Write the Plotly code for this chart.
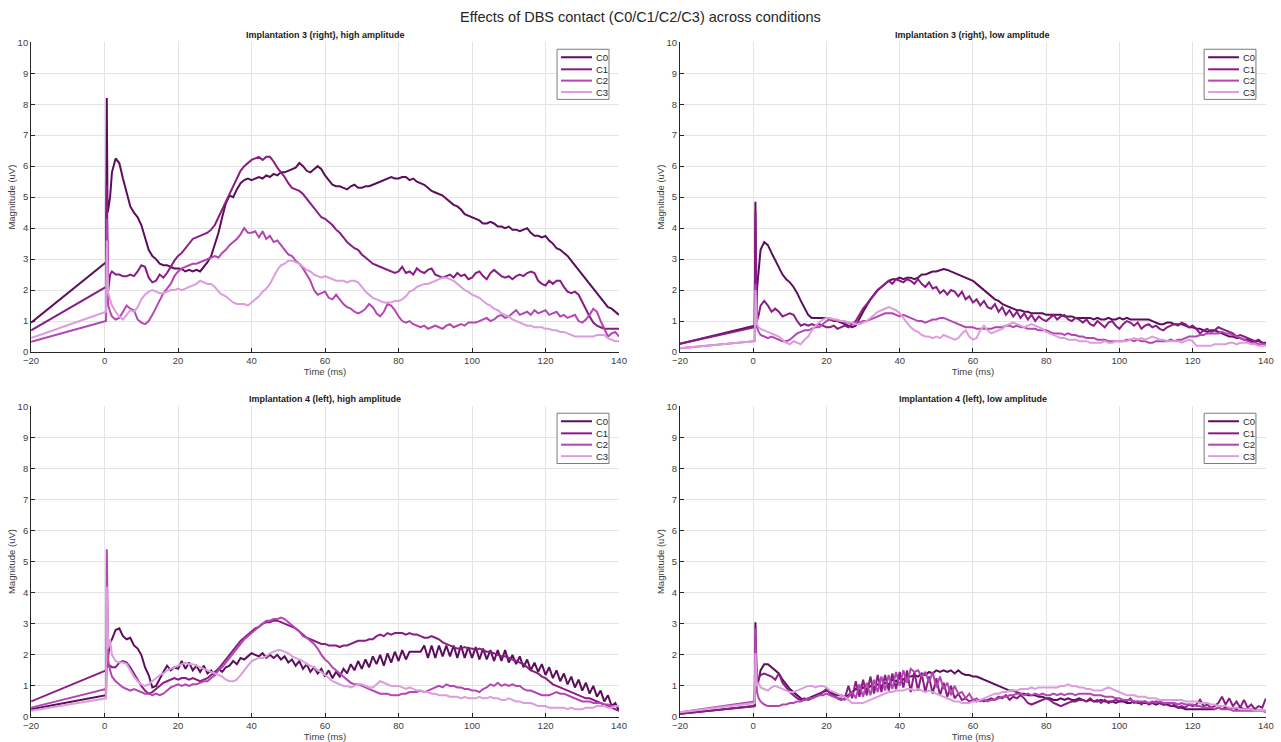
import plotly.graph_objects as go

# Time base (ms): pre-stimulus anchor, fine samples around the artefact, then 1 ms steps
t_ms = [-20, 0.4, 0.6, 0.8, 1.0, 1.5] + list(range(2, 141))

contacts = ["C0", "C1", "C2", "C3"]
contact_colors = ["#5c0d5c", "#8a1c86", "#b446b4", "#dc9ddc"]

panel_titles = [
    "Implantation 3 (right), high amplitude",
    "Implantation 3 (right), low amplitude",
    "Implantation 4 (left), high amplitude",
    "Implantation 4 (left), low amplitude",
]

# ---- Implantation 3 (right), high amplitude ----
imp3_high_c0 = [
    0.95, 2.9, 8.2, 4.5, 4.6, 5.0,
    5.8, 6.25, 6.1, 5.6, 5.1, 4.7, 4.5, 4.35,
    4.1, 3.7, 3.3, 3.1, 3.0, 2.85, 2.8, 2.8, 2.75, 2.7,
    2.7, 2.68, 2.6, 2.65, 2.6, 2.65, 2.6, 2.75, 2.9, 3.1,
    3.45, 3.85, 4.35, 4.8, 5.05, 5.0, 5.25, 5.45, 5.55, 5.6,
    5.55, 5.6, 5.65, 5.6, 5.7, 5.65, 5.75, 5.7, 5.8, 5.8,
    5.85, 5.9, 5.95, 6.1, 6.0, 5.85, 5.8, 5.9, 6.0, 5.9,
    5.7, 5.55, 5.4, 5.35, 5.35, 5.3, 5.25, 5.35, 5.4, 5.3,
    5.3, 5.35, 5.35, 5.4, 5.45, 5.5, 5.55, 5.6, 5.65, 5.6,
    5.6, 5.65, 5.65, 5.55, 5.6, 5.5, 5.45, 5.4, 5.3, 5.2,
    5.15, 5.1, 5.05, 4.95, 4.85, 4.75, 4.7, 4.6, 4.45, 4.4,
    4.35, 4.3, 4.25, 4.15, 4.15, 4.2, 4.15, 4.05, 4.05, 4.0,
    4.05, 3.95, 3.95, 3.9, 3.95, 4.0, 3.85, 3.75, 3.75, 3.7,
    3.75, 3.6, 3.5, 3.35, 3.3, 3.2, 3.1, 2.95, 2.8, 2.65,
    2.5, 2.35, 2.2, 2.05, 1.9, 1.75, 1.6, 1.45, 1.4, 1.3,
    1.2,
]
imp3_high_c1 = [
    0.7, 2.1, 5.4, 2.2, 2.0, 2.5,
    2.6, 2.5, 2.5, 2.45, 2.45, 2.5, 2.45, 2.6,
    2.8, 2.75, 2.4, 2.25, 2.3, 2.5, 2.4, 2.55, 2.75, 2.95,
    3.1, 3.2, 3.35, 3.5, 3.65, 3.7, 3.75, 3.8, 3.85, 3.95,
    4.1, 4.35, 4.6, 4.85, 5.05, 5.3, 5.6, 5.85, 6.0, 6.1,
    6.2, 6.25, 6.3, 6.2, 6.3, 6.3, 6.15, 5.95, 5.8, 5.65,
    5.45, 5.3, 5.25, 5.2, 5.1, 4.95, 4.8, 4.65, 4.5, 4.35,
    4.3, 4.2, 4.1, 3.95, 3.85, 3.7, 3.55, 3.45, 3.35, 3.3,
    3.15, 3.05, 2.95, 2.85, 2.8, 2.75, 2.7, 2.65, 2.6, 2.55,
    2.6, 2.75, 2.55, 2.6, 2.5, 2.7, 2.6, 2.55, 2.65, 2.7,
    2.5, 2.45, 2.4, 2.45, 2.5, 2.4, 2.55, 2.45, 2.5, 2.35,
    2.4, 2.55, 2.6, 2.45, 2.35, 2.55, 2.65, 2.55, 2.45, 2.4,
    2.45, 2.35, 2.45, 2.5, 2.45, 2.55, 2.6, 2.55, 2.3, 2.2,
    2.15, 2.3, 2.2, 2.3, 2.3, 2.1, 1.95, 1.9, 1.95, 1.85,
    1.6, 1.35, 1.15, 0.95, 0.85, 0.8, 0.75, 0.75, 0.75, 0.75,
    0.75,
]
imp3_high_c2 = [
    0.33, 1.0, 4.3, 1.9, 1.5, 1.3,
    1.15, 1.05, 1.1, 1.3, 1.5, 1.4, 1.35, 1.05,
    0.95, 0.9, 1.0, 1.2, 1.45, 1.7, 1.9, 2.05, 2.2, 2.45,
    2.6, 2.7, 2.75, 2.8, 2.85, 2.85, 2.9, 2.95, 3.0, 3.05,
    3.1, 3.05, 3.2, 3.3, 3.45, 3.55, 3.65, 3.8, 4.0, 3.85,
    3.85, 3.9, 3.7, 3.9, 3.65, 3.75, 3.55, 3.6, 3.45, 3.3,
    3.15, 3.1, 2.95, 2.85, 2.7, 2.5, 2.3, 2.0, 1.85, 1.9,
    1.95, 1.75, 1.7, 1.85, 1.7, 1.55, 1.45, 1.4, 1.3, 1.25,
    1.3, 1.4, 1.55, 1.45, 1.25, 1.15, 1.3, 1.55, 1.5, 1.35,
    1.15, 1.0, 0.95, 1.0, 0.9, 0.85, 0.8, 0.85, 0.75, 0.8,
    0.85, 0.8, 0.75, 0.85, 0.9, 0.8, 0.85, 0.9, 0.85, 0.95,
    0.95, 0.95, 1.0, 1.05, 1.1, 1.0, 1.05, 1.15, 1.2, 1.1,
    1.15, 1.25, 1.35, 1.2, 1.25, 1.3, 1.2, 1.35, 1.25, 1.3,
    1.35, 1.2, 1.25, 1.3, 1.15, 1.2, 1.1, 1.15, 1.2, 1.0,
    0.95, 1.05, 1.2, 1.4, 1.3, 1.0, 0.75, 0.5, 0.6, 0.65,
    0.5,
]
imp3_high_c3 = [
    0.45, 1.3, 3.6, 2.0, 1.9, 1.7,
    1.5, 1.3, 1.15, 1.05, 1.2, 1.35, 1.3, 1.45,
    1.7, 1.85, 1.95, 2.0, 1.95, 1.9, 1.9, 1.95, 2.0, 2.0,
    2.05, 2.0, 2.05, 2.1, 2.15, 2.2, 2.3, 2.25, 2.2, 2.2,
    2.1, 1.95, 1.85, 1.8, 1.7, 1.6, 1.55, 1.55, 1.55, 1.5,
    1.6, 1.7, 1.8, 1.95, 2.05, 2.2, 2.45, 2.65, 2.8, 2.85,
    2.95, 2.95, 2.9, 2.85, 2.75, 2.65, 2.6, 2.5, 2.45, 2.4,
    2.45, 2.4, 2.35, 2.3, 2.3, 2.3, 2.25, 2.3, 2.3, 2.25,
    2.1, 1.95, 1.85, 1.75, 1.7, 1.65, 1.6, 1.6, 1.6, 1.65,
    1.65, 1.7, 1.8, 1.95, 2.0, 2.1, 2.15, 2.2, 2.2, 2.25,
    2.3, 2.35, 2.4, 2.4, 2.35, 2.3, 2.2, 2.1, 2.0, 1.95,
    1.85, 1.8, 1.75, 1.65, 1.55, 1.5, 1.4, 1.35, 1.25, 1.2,
    1.15, 1.05, 1.0, 0.95, 0.9, 0.85, 0.85, 0.8, 0.8, 0.8,
    0.75, 0.75, 0.7, 0.7, 0.65, 0.65, 0.6, 0.55, 0.5, 0.5,
    0.5, 0.5, 0.5, 0.5, 0.55, 0.55, 0.55, 0.45, 0.4, 0.35,
    0.35,
]

# ---- Implantation 3 (right), low amplitude ----
imp3_low_c0 = [
    0.27, 0.85, 4.85, 1.5, 2.0, 2.8,
    3.3, 3.55, 3.45, 3.2, 2.95, 2.7, 2.5, 2.35,
    2.25, 2.1, 1.9, 1.65, 1.4, 1.2, 1.1, 1.1, 1.08, 1.1,
    1.1, 1.05, 1.0, 1.0, 0.95, 0.9, 0.85, 0.8, 0.85, 1.1,
    1.3, 1.5, 1.7, 1.85, 2.0, 2.1, 2.2, 2.3, 2.35, 2.35,
    2.4, 2.35, 2.4, 2.4, 2.35, 2.4, 2.5, 2.5, 2.55, 2.6,
    2.6, 2.65, 2.68, 2.65, 2.6, 2.55, 2.5, 2.45, 2.4, 2.35,
    2.3, 2.2, 2.1, 2.0, 1.9, 1.8, 1.7, 1.65, 1.55, 1.5,
    1.45, 1.4, 1.35, 1.35, 1.3, 1.3, 1.25, 1.25, 1.25, 1.25,
    1.2, 1.2, 1.2, 1.2, 1.2, 1.15, 1.15, 1.15, 1.1, 1.1,
    1.1, 1.1, 1.1, 1.05, 1.1, 1.05, 1.05, 1.1, 1.05, 1.05,
    1.1, 1.05, 1.1, 1.05, 1.05, 1.05, 1.05, 1.05, 1.05, 1.0,
    0.95, 0.9, 0.9, 0.95, 0.95, 0.9, 0.9, 0.9, 0.85, 0.8,
    0.8, 0.75, 0.75, 0.7, 0.65, 0.7, 0.7, 0.65, 0.6, 0.55,
    0.5, 0.5, 0.45, 0.45, 0.4, 0.4, 0.35, 0.35, 0.35, 0.3,
    0.3,
]
imp3_low_c1 = [
    0.27, 0.8, 4.5, 1.4, 1.0, 1.2,
    1.5, 1.65, 1.5, 1.3, 1.4, 1.3, 1.15, 1.2,
    1.25, 1.2, 1.0, 0.85, 0.9, 0.85, 0.9, 0.85, 0.9, 0.85,
    0.8, 0.8, 0.85, 0.75, 0.8, 0.85, 0.8, 0.9, 1.0, 1.2,
    1.4, 1.55, 1.7, 1.85, 2.0, 2.1, 2.2, 2.3, 2.2, 2.35,
    2.3, 2.25, 2.35, 2.3, 2.2, 2.35, 2.2, 2.1, 2.25, 2.05,
    2.1, 1.9, 2.0, 1.85, 2.0, 1.95, 1.8, 1.95, 1.7, 1.8,
    1.6, 1.7, 1.5, 1.65, 1.45, 1.4, 1.55, 1.3, 1.45, 1.2,
    1.35, 1.15, 1.3, 1.1, 1.25, 1.05, 1.2, 1.0, 1.15, 1.05,
    1.0, 1.1, 1.2, 1.05, 1.15, 1.2, 1.05, 1.0, 1.1, 1.05,
    0.95, 1.05, 0.9, 0.85, 1.0, 0.9, 0.8, 0.95, 1.0, 0.85,
    0.75, 0.9, 1.0, 0.95, 0.85, 0.95, 0.75, 0.85, 0.9, 0.8,
    0.85, 0.75, 0.7, 0.8, 0.85, 0.9, 0.85, 0.95, 0.9, 0.8,
    0.85, 0.75, 0.6, 0.7, 0.75, 0.65, 0.7, 0.8, 0.75, 0.7,
    0.65, 0.6, 0.5, 0.55, 0.5, 0.45, 0.4, 0.35, 0.4, 0.3,
    0.25,
]
imp3_low_c2 = [
    0.12, 0.35, 2.2, 1.0, 0.8, 0.65,
    0.55, 0.5, 0.45, 0.5, 0.45, 0.4, 0.35, 0.35,
    0.4, 0.5, 0.6, 0.65, 0.7, 0.7, 0.75, 0.8, 0.8, 0.9,
    1.0, 1.05, 1.05, 1.0, 1.0, 0.95, 0.95, 0.9, 0.95, 0.95,
    1.0, 1.0, 1.05, 1.1, 1.15, 1.2, 1.25, 1.25, 1.25, 1.2,
    1.15, 1.2, 1.15, 1.1, 1.05, 1.0, 1.0, 0.95, 1.0, 1.05,
    1.05, 1.1, 1.1, 1.05, 1.0, 0.95, 0.9, 0.85, 0.8, 0.8,
    0.8, 0.75, 0.75, 0.75, 0.75, 0.75, 0.8, 0.8, 0.8, 0.85,
    0.85, 0.8, 0.85, 0.8, 0.8, 0.75, 0.75, 0.75, 0.7, 0.7,
    0.7, 0.65, 0.6, 0.6, 0.6, 0.55, 0.6, 0.55, 0.55, 0.5,
    0.5, 0.45, 0.45, 0.45, 0.4, 0.4, 0.4, 0.35, 0.35, 0.35,
    0.35, 0.35, 0.4, 0.4, 0.35, 0.4, 0.35, 0.35, 0.3, 0.3,
    0.35, 0.35, 0.35, 0.35, 0.4, 0.35, 0.4, 0.4, 0.45, 0.5,
    0.5, 0.5, 0.55, 0.55, 0.6, 0.6, 0.6, 0.6, 0.65, 0.6,
    0.6, 0.55, 0.5, 0.45, 0.4, 0.35, 0.3, 0.3, 0.25, 0.25,
    0.25,
]
imp3_low_c3 = [
    0.12, 0.35, 2.0, 1.2, 0.9, 0.8,
    0.75, 0.7, 0.65, 0.6, 0.55, 0.5, 0.4, 0.3,
    0.25, 0.35, 0.3, 0.25, 0.4, 0.5, 0.7, 0.85, 0.95, 1.05,
    1.1, 1.1, 1.05, 1.05, 1.0, 1.0, 0.95, 0.95, 0.9, 0.9,
    0.95, 1.0, 1.1, 1.2, 1.3, 1.35, 1.4, 1.45, 1.4, 1.35,
    1.25, 1.1, 0.95, 0.8, 0.7, 0.65, 0.55, 0.5, 0.5, 0.45,
    0.5, 0.45, 0.55, 0.5, 0.45, 0.4, 0.45, 0.6, 0.7, 0.5,
    0.4, 0.45, 0.7, 0.85, 0.7, 0.6, 0.65, 0.7, 0.75, 0.85,
    0.9, 0.95, 0.9, 0.85, 0.8, 0.85, 0.9, 0.85, 0.8, 0.75,
    0.65, 0.6, 0.55, 0.5, 0.45, 0.45, 0.4, 0.4, 0.4, 0.35,
    0.35, 0.35, 0.3, 0.3, 0.3, 0.3, 0.35, 0.3, 0.3, 0.35,
    0.35, 0.35, 0.35, 0.4, 0.45, 0.4, 0.45, 0.4, 0.45, 0.5,
    0.45, 0.4, 0.4, 0.35, 0.35, 0.35, 0.35, 0.3, 0.35, 0.4,
    0.35, 0.2, 0.2, 0.2, 0.2, 0.2, 0.25, 0.25, 0.25, 0.25,
    0.3, 0.3, 0.25, 0.3, 0.3, 0.3, 0.25, 0.25, 0.2, 0.2,
    0.2,
]

# ---- Implantation 4 (left), high amplitude ----
imp4_high_c0 = [
    0.25, 0.7, 2.3, 1.6, 2.0, 2.4,
    2.5, 2.8, 2.85, 2.6, 2.5, 2.55, 2.3, 2.2,
    2.0, 1.6, 1.35, 0.95, 1.0, 1.25, 1.45, 1.65, 1.5, 1.6,
    1.55, 1.8, 1.55, 1.75, 1.5, 1.65, 1.45, 1.65, 1.4, 1.5,
    1.35, 1.55, 1.45, 1.6, 1.65, 1.8, 1.7, 1.9, 1.85, 1.95,
    2.05, 2.0, 1.95, 2.05, 1.9, 2.0, 1.9, 2.0, 1.85, 1.95,
    1.75, 1.85, 1.65, 1.8, 1.55, 1.7, 1.45, 1.6, 1.4, 1.55,
    1.3, 1.5, 1.25, 1.45, 1.3, 1.55, 1.4, 1.7, 1.5, 1.8,
    1.55, 1.85, 1.6, 1.95, 1.7, 2.0, 1.65, 2.05, 1.75, 2.1,
    1.8, 2.15, 1.85, 2.1, 2.1, 2.1, 2.1, 2.3, 1.9, 2.3,
    1.9, 2.3, 1.95, 2.3, 1.95, 2.3, 1.9, 2.3, 1.9, 2.25,
    1.9, 2.25, 1.85, 2.2, 1.85, 2.15, 1.8, 2.15, 1.8, 2.15,
    1.75, 2.0, 1.7, 1.95, 1.6, 1.85, 1.5, 1.75, 1.45, 1.7,
    1.35, 1.6, 1.25, 1.5, 1.15, 1.4, 1.05, 1.3, 0.95, 1.2,
    0.85, 1.1, 0.75, 1.0, 0.65, 0.85, 0.5, 0.7, 0.35, 0.45,
    0.2,
]
imp4_high_c1 = [
    0.5, 1.5, 2.6, 1.6, 1.7, 1.65,
    1.6, 1.6, 1.75, 1.8, 1.75, 1.6, 1.4, 1.2,
    1.0, 0.85, 0.75, 0.8, 0.9, 1.0, 1.1, 1.15, 1.2, 1.25,
    1.2, 1.25, 1.25, 1.2, 1.25, 1.2, 1.15, 1.2, 1.25, 1.35,
    1.45, 1.55, 1.7, 1.85, 2.0, 2.15, 2.3, 2.45, 2.55, 2.65,
    2.75, 2.85, 2.9, 3.0, 3.05, 3.05, 3.1, 3.1, 3.05, 3.0,
    2.95, 2.9, 2.85, 2.75, 2.65, 2.55, 2.5, 2.45, 2.4, 2.35,
    2.35, 2.3, 2.3, 2.3, 2.25, 2.3, 2.3, 2.35, 2.4, 2.45,
    2.45, 2.45, 2.5, 2.5, 2.6, 2.65, 2.6, 2.7, 2.65, 2.7,
    2.7, 2.7, 2.65, 2.7, 2.65, 2.65, 2.6, 2.55, 2.55, 2.6,
    2.55, 2.5, 2.4, 2.35, 2.3, 2.25, 2.2, 2.2, 2.25, 2.2,
    2.2, 2.15, 2.2, 2.15, 2.1, 2.1, 2.05, 2.0, 1.95, 1.95,
    1.9, 1.85, 1.8, 1.75, 1.7, 1.6, 1.5, 1.45, 1.4, 1.3,
    1.25, 1.15, 1.05, 1.0, 0.95, 0.9, 0.85, 0.8, 0.75, 0.7,
    0.65, 0.6, 0.6, 0.55, 0.5, 0.45, 0.4, 0.35, 0.3, 0.25,
    0.2,
]
imp4_high_c2 = [
    0.3, 0.9, 5.4, 2.6, 1.8, 1.5,
    1.3, 1.15, 1.05, 0.95, 0.9, 0.85, 0.9, 0.85,
    0.8, 0.75, 0.75, 0.7, 0.75, 0.7, 0.75, 0.85, 0.95, 1.0,
    1.05, 1.0, 1.05, 1.0, 1.05, 1.05, 1.1, 1.15, 1.15, 1.25,
    1.35, 1.5, 1.6, 1.75, 1.9, 2.05, 2.2, 2.35, 2.5, 2.6,
    2.7, 2.8, 2.9, 3.0, 3.1, 3.1, 3.15, 3.15, 3.2, 3.15,
    3.05, 2.95, 2.85, 2.75, 2.6, 2.55, 2.45, 2.35, 2.2, 2.0,
    1.85, 1.75, 1.6, 1.5, 1.4, 1.3, 1.2, 1.1, 1.05, 1.05,
    1.0, 0.95, 0.9, 0.85, 0.8, 0.75, 0.75, 0.75, 0.7, 0.7,
    0.7, 0.75, 0.75, 0.8, 0.8, 0.8, 0.85, 0.8, 0.85, 0.9,
    0.95, 1.0, 0.95, 1.05, 1.0, 1.0, 0.95, 0.95, 0.9, 0.9,
    0.85, 0.85, 0.8, 0.9, 0.95, 1.05, 1.0, 1.1, 1.0, 1.05,
    1.0, 1.05, 1.0, 1.0, 0.9, 0.85, 0.85, 0.8, 0.75, 0.7,
    0.7, 0.7, 0.75, 0.8, 0.75, 0.75, 0.7, 0.65, 0.6, 0.55,
    0.5, 0.5, 0.5, 0.45, 0.45, 0.45, 0.4, 0.4, 0.35, 0.35,
    0.35,
]
imp4_high_c3 = [
    0.2, 0.6, 4.2, 2.7, 2.2, 2.5,
    2.0, 1.8, 1.75, 1.75, 1.7, 1.5, 1.3, 1.15,
    1.05, 1.0, 1.05, 1.15, 1.25, 1.35, 1.4, 1.5, 1.55, 1.6,
    1.65, 1.7, 1.75, 1.7, 1.7, 1.65, 1.6, 1.55, 1.5, 1.45,
    1.4, 1.35, 1.3, 1.2, 1.15, 1.15, 1.2, 1.35, 1.5, 1.65,
    1.8, 1.85, 1.9, 1.9, 1.95, 2.05, 2.1, 2.15, 2.15, 2.1,
    2.05, 1.95, 1.9, 1.85, 1.8, 1.7, 1.65, 1.6, 1.5, 1.45,
    1.35, 1.25, 1.15, 1.1, 1.05, 1.0, 1.0, 0.95, 1.0, 1.05,
    1.05, 1.0, 0.95, 0.95, 1.05, 1.15, 1.1, 1.05, 1.0, 1.0,
    1.0, 0.95, 0.9, 0.95, 0.9, 0.85, 0.85, 0.8, 0.8, 0.75,
    0.75, 0.7, 0.7, 0.7, 0.65, 0.65, 0.65, 0.6, 0.65, 0.6,
    0.6, 0.6, 0.65, 0.6, 0.6, 0.65, 0.6, 0.6, 0.55, 0.55,
    0.6, 0.55, 0.5, 0.5, 0.45, 0.45, 0.45, 0.4, 0.35, 0.35,
    0.35, 0.3, 0.3, 0.3, 0.3, 0.3, 0.25, 0.3, 0.25, 0.25,
    0.25, 0.3, 0.3, 0.3, 0.35, 0.35, 0.35, 0.3, 0.3, 0.35,
    0.35,
]

# ---- Implantation 4 (left), low amplitude ----
imp4_low_c0 = [
    0.1, 0.35, 3.05, 1.3, 1.0, 1.2,
    1.5, 1.7, 1.7, 1.6, 1.5, 1.4, 1.2, 1.05,
    0.9, 0.8, 0.7, 0.6, 0.55, 0.6, 0.65, 0.7, 0.75, 0.8,
    0.85, 0.8, 0.75, 0.7, 0.7, 0.65, 0.7, 0.8, 0.9, 0.85,
    0.95, 0.9, 1.0, 0.95, 1.05, 1.0, 1.1, 1.05, 1.2, 1.15,
    1.25, 1.2, 1.3, 1.3, 1.35, 1.3, 1.4, 1.35, 1.45, 1.4,
    1.5, 1.45, 1.5, 1.45, 1.5, 1.4, 1.5, 1.4, 1.35, 1.35,
    1.3, 1.3, 1.25, 1.2, 1.15, 1.1, 1.05, 1.0, 0.95, 0.9,
    0.85, 0.85, 0.8, 0.75, 0.75, 0.7, 0.7, 0.7, 0.65, 0.65,
    0.6, 0.6, 0.55, 0.55, 0.6, 0.55, 0.6, 0.55, 0.55, 0.6,
    0.55, 0.5, 0.55, 0.5, 0.5, 0.55, 0.5, 0.5, 0.5, 0.45,
    0.5, 0.5, 0.45, 0.45, 0.5, 0.45, 0.45, 0.45, 0.45, 0.45,
    0.4, 0.45, 0.4, 0.4, 0.35, 0.35, 0.3, 0.3, 0.25, 0.25,
    0.25, 0.25, 0.25, 0.25, 0.25, 0.25, 0.25, 0.3, 0.25, 0.3,
    0.25, 0.3, 0.25, 0.3, 0.25, 0.25, 0.25, 0.2, 0.2, 0.2,
    0.2,
]
imp4_low_c1 = [
    0.1, 0.35, 2.2, 1.4, 1.1, 1.25,
    1.35, 1.4, 1.35, 1.3, 1.2, 1.4, 1.1, 0.95,
    0.8, 0.7, 0.6, 0.55, 0.6, 0.55, 0.6, 0.65, 0.7, 0.8,
    0.9, 0.75, 0.7, 0.6, 0.55, 0.6, 1.0, 0.6, 1.15, 0.65,
    1.2, 0.7, 1.3, 0.75, 1.35, 0.8, 1.35, 0.85, 1.4, 0.9,
    1.45, 0.95, 1.5, 0.8, 1.45, 0.85, 1.4, 0.8, 1.3, 0.75,
    1.25, 0.7, 1.1, 0.65, 1.0, 0.6, 0.75, 0.55, 0.6, 0.5,
    0.55, 0.5, 0.55, 0.5, 0.55, 0.6, 0.55, 0.65, 0.6, 0.7,
    0.55, 0.65, 0.6, 0.7, 0.6, 0.45, 0.4, 0.45, 0.5, 0.55,
    0.6, 0.55, 0.45, 0.4, 0.35, 0.4, 0.45, 0.5, 0.5, 0.55,
    0.55, 0.5, 0.6, 0.5, 0.55, 0.45, 0.55, 0.45, 0.5, 0.55,
    0.5, 0.55, 0.5, 0.6, 0.45, 0.5, 0.4, 0.5, 0.4, 0.45,
    0.5, 0.45, 0.4, 0.45, 0.35, 0.4, 0.3, 0.35, 0.3, 0.4,
    0.35, 0.4, 0.55, 0.35, 0.4, 0.3, 0.35, 0.45, 0.65, 0.4,
    0.6, 0.35, 0.5, 0.3, 0.55, 0.3, 0.4, 0.25, 0.35, 0.3,
    0.6,
]
imp4_low_c2 = [
    0.15, 0.5, 2.85, 1.3, 0.8, 0.6,
    0.5, 0.4, 0.35, 0.35, 0.35, 0.35, 0.4, 0.4,
    0.45, 0.45, 0.5, 0.5, 0.55, 0.6, 0.6, 0.65, 0.7, 0.7,
    0.75, 0.7, 0.65, 0.6, 0.6, 0.55, 0.65, 0.8, 0.6, 1.05,
    0.65, 1.1, 0.7, 1.2, 0.8, 1.3, 0.85, 1.35, 0.9, 1.45,
    1.0, 1.5, 1.1, 1.55, 1.45, 1.5, 1.3, 1.45, 1.1, 1.45,
    0.95, 1.3, 0.9, 1.1, 0.7, 1.0, 0.75, 0.8, 0.6, 0.75,
    0.55, 0.6, 0.5, 0.55, 0.5, 0.55, 0.55, 0.6, 0.65, 0.65,
    0.7, 0.7, 0.75, 0.75, 0.7, 0.75, 0.7, 0.75, 0.7, 0.75,
    0.7, 0.7, 0.75, 0.7, 0.75, 0.7, 0.75, 0.75, 0.7, 0.75,
    0.75, 0.75, 0.75, 0.7, 0.7, 0.7, 0.65, 0.65, 0.65, 0.6,
    0.6, 0.55, 0.55, 0.55, 0.5, 0.5, 0.5, 0.5, 0.45, 0.5,
    0.45, 0.5, 0.45, 0.45, 0.45, 0.45, 0.4, 0.45, 0.4, 0.4,
    0.4, 0.35, 0.35, 0.3, 0.3, 0.3, 0.25, 0.3, 0.25, 0.25,
    0.25, 0.2, 0.2, 0.2, 0.2, 0.2, 0.2, 0.2, 0.2, 0.2,
    0.15,
]
imp4_low_c3 = [
    0.15, 0.45, 2.05, 1.3, 1.0, 1.1,
    0.95, 0.9, 0.85, 0.95, 1.0, 0.95, 0.9, 0.85,
    0.8, 0.8, 0.85, 0.9, 0.95, 1.0, 1.0, 0.95, 1.0, 1.0,
    0.95, 0.85, 0.8, 0.75, 0.7, 0.65, 0.55, 0.45, 0.45, 0.45,
    0.45, 0.5, 0.55, 0.6, 0.65, 0.7, 0.75, 0.8, 0.8, 0.85,
    0.85, 0.85, 0.9, 0.9, 0.85, 0.9, 0.85, 0.8, 0.85, 0.8,
    0.75, 0.7, 0.65, 0.6, 0.55, 0.5, 0.5, 0.45, 0.45, 0.45,
    0.5, 0.5, 0.55, 0.6, 0.65, 0.7, 0.75, 0.75, 0.8, 0.8,
    0.85, 0.85, 0.85, 0.9, 0.9, 0.9, 0.95, 0.9, 0.95, 0.95,
    0.95, 0.95, 0.95, 0.95, 1.0, 1.0, 1.05, 1.0, 1.0, 0.95,
    0.95, 0.9, 0.9, 0.85, 0.85, 0.85, 0.9, 0.95, 0.9, 0.85,
    0.8, 0.75, 0.7, 0.7, 0.7, 0.65, 0.65, 0.65, 0.6, 0.6,
    0.6, 0.55, 0.55, 0.55, 0.55, 0.55, 0.55, 0.55, 0.5, 0.5,
    0.5, 0.5, 0.45, 0.45, 0.45, 0.4, 0.4, 0.35, 0.35, 0.35,
    0.3, 0.3, 0.3, 0.25, 0.25, 0.25, 0.25, 0.2, 0.2, 0.2,
    0.2,
]

panels = [
    [imp3_high_c0, imp3_high_c1, imp3_high_c2, imp3_high_c3],
    [imp3_low_c0, imp3_low_c1, imp3_low_c2, imp3_low_c3],
    [imp4_high_c0, imp4_high_c1, imp4_high_c2, imp4_high_c3],
    [imp4_low_c0, imp4_low_c1, imp4_low_c2, imp4_low_c3],
]

# ---- page geometry ----
# Positions are given in on-screen pixels; the figure sits inside the page's
# 8 px body margin and the screen view spans a slightly larger page area.
SCREEN_W, SCREEN_H = 1281, 742
VIEW_W, VIEW_H = 1297, 755
SX, SY = SCREEN_W / VIEW_W, SCREEN_H / VIEW_H
BODY_MARGIN = 8
FIG_W, FIG_H = 1281, 750


def paper_x(px):
    return (px / SX - BODY_MARGIN) / FIG_W


def paper_y(py):
    return 1 - (py / SY - BODY_MARGIN) / FIG_H


col_px = [(31, 619), (680, 1266)]
row_px = [(44, 353), (407, 717)]

FONT = "Liberation Sans, Arial, sans-serif"
AXIS_INK = "#262626"
GRID = "#e4e4e4"

fig = go.Figure()
layout_axes = {}
annotations = []
shapes = []

# legend box placement inside each axes (axes-domain fractions)
LEG_X0, LEG_X1 = 0.8946, 0.9830
LEG_Y0, LEG_Y1 = 0.8155, 0.9773
LEG_LINE_X0, LEG_LINE_X1 = 0.9014, 0.9541
LEG_TEXT_X = 0.9575
LEG_ROWS = [0.9515, 0.9126, 0.8761, 0.8392]

for i, series in enumerate(panels):
    r, c = divmod(i, 2)
    n = i + 1
    xs = "" if n == 1 else str(n)
    (px0, px1), (py0, py1) = col_px[c], row_px[r]
    xdom = [paper_x(px0), paper_x(px1)]
    ydom = [paper_y(py1), paper_y(py0)]

    for k, vals in enumerate(series):
        fig.add_trace(go.Scatter(
            x=t_ms, y=vals, mode="lines", name=contacts[k],
            line=dict(color=contact_colors[k], width=2),
            xaxis="x" + xs, yaxis="y" + xs, showlegend=False,
            hoverinfo="skip",
        ))

    common = dict(
        showgrid=True, gridcolor=GRID, gridwidth=1, zeroline=False,
        showline=True, linecolor=AXIS_INK, linewidth=1,
        ticks="inside", ticklen=4, tickwidth=1, tickcolor=AXIS_INK,
        tickfont=dict(family=FONT, size=9.5, color="#404040"),
        mirror=False,
    )
    layout_axes["xaxis" + xs] = dict(
        common, domain=xdom, anchor="y" + xs, range=[-20, 140],
        tickmode="array", tickvals=[-20, 0, 20, 40, 60, 80, 100, 120, 140],
        title=dict(text="Time (ms)", standoff=1,
                   font=dict(family=FONT, size=9.5, color="#404040")),
    )
    layout_axes["yaxis" + xs] = dict(
        common, domain=ydom, anchor="x" + xs, range=[0, 10],
        tickmode="array", tickvals=list(range(0, 11)),
        title=dict(text="Magnitude (uV)", standoff=0,
                   font=dict(family=FONT, size=9.5, color="#404040")),
    )

    # panel title
    annotations.append(dict(
        text="<b>" + panel_titles[i] + "</b>", xref="paper", yref="paper",
        x=paper_x((px0 + px1) / 2), y=paper_y(py0 - 7),
        xanchor="center", yanchor="middle",
        showarrow=False, font=dict(family=FONT, size=9, color="#1a1a1a"),
    ))

    # legend box
    xr, yr = "x" + xs + " domain", "y" + xs + " domain"
    shapes.append(dict(
        type="rect", xref=xr, yref=yr, x0=LEG_X0, x1=LEG_X1, y0=LEG_Y0, y1=LEG_Y1,
        line=dict(color="#7a7a7a", width=1), fillcolor="white", layer="above",
    ))
    for k in range(4):
        shapes.append(dict(
            type="line", xref=xr, yref=yr, x0=LEG_LINE_X0, x1=LEG_LINE_X1,
            y0=LEG_ROWS[k], y1=LEG_ROWS[k], layer="above",
            line=dict(color=contact_colors[k], width=2),
        ))
        annotations.append(dict(
            text=contacts[k], xref=xr, yref=yr, x=LEG_TEXT_X, y=LEG_ROWS[k],
            xanchor="left", yanchor="middle", showarrow=False,
            font=dict(family=FONT, size=9.5, color=AXIS_INK),
        ))

# figure title
annotations.append(dict(
    text="Effects of DBS contact (C0/C1/C2/C3) across conditions",
    xref="paper", yref="paper", x=paper_x(SCREEN_W / 2), y=paper_y(19),
    xanchor="center", yanchor="middle", showarrow=False,
    font=dict(family=FONT, size=14.5, color=AXIS_INK),
))

fig.update_layout(
    width=FIG_W, height=FIG_H,
    margin=dict(l=0, r=0, t=0, b=0),
    paper_bgcolor="white", plot_bgcolor="white",
    showlegend=False,
    annotations=annotations, shapes=shapes,
    **layout_axes,
)

fig.write_html("out.html")
